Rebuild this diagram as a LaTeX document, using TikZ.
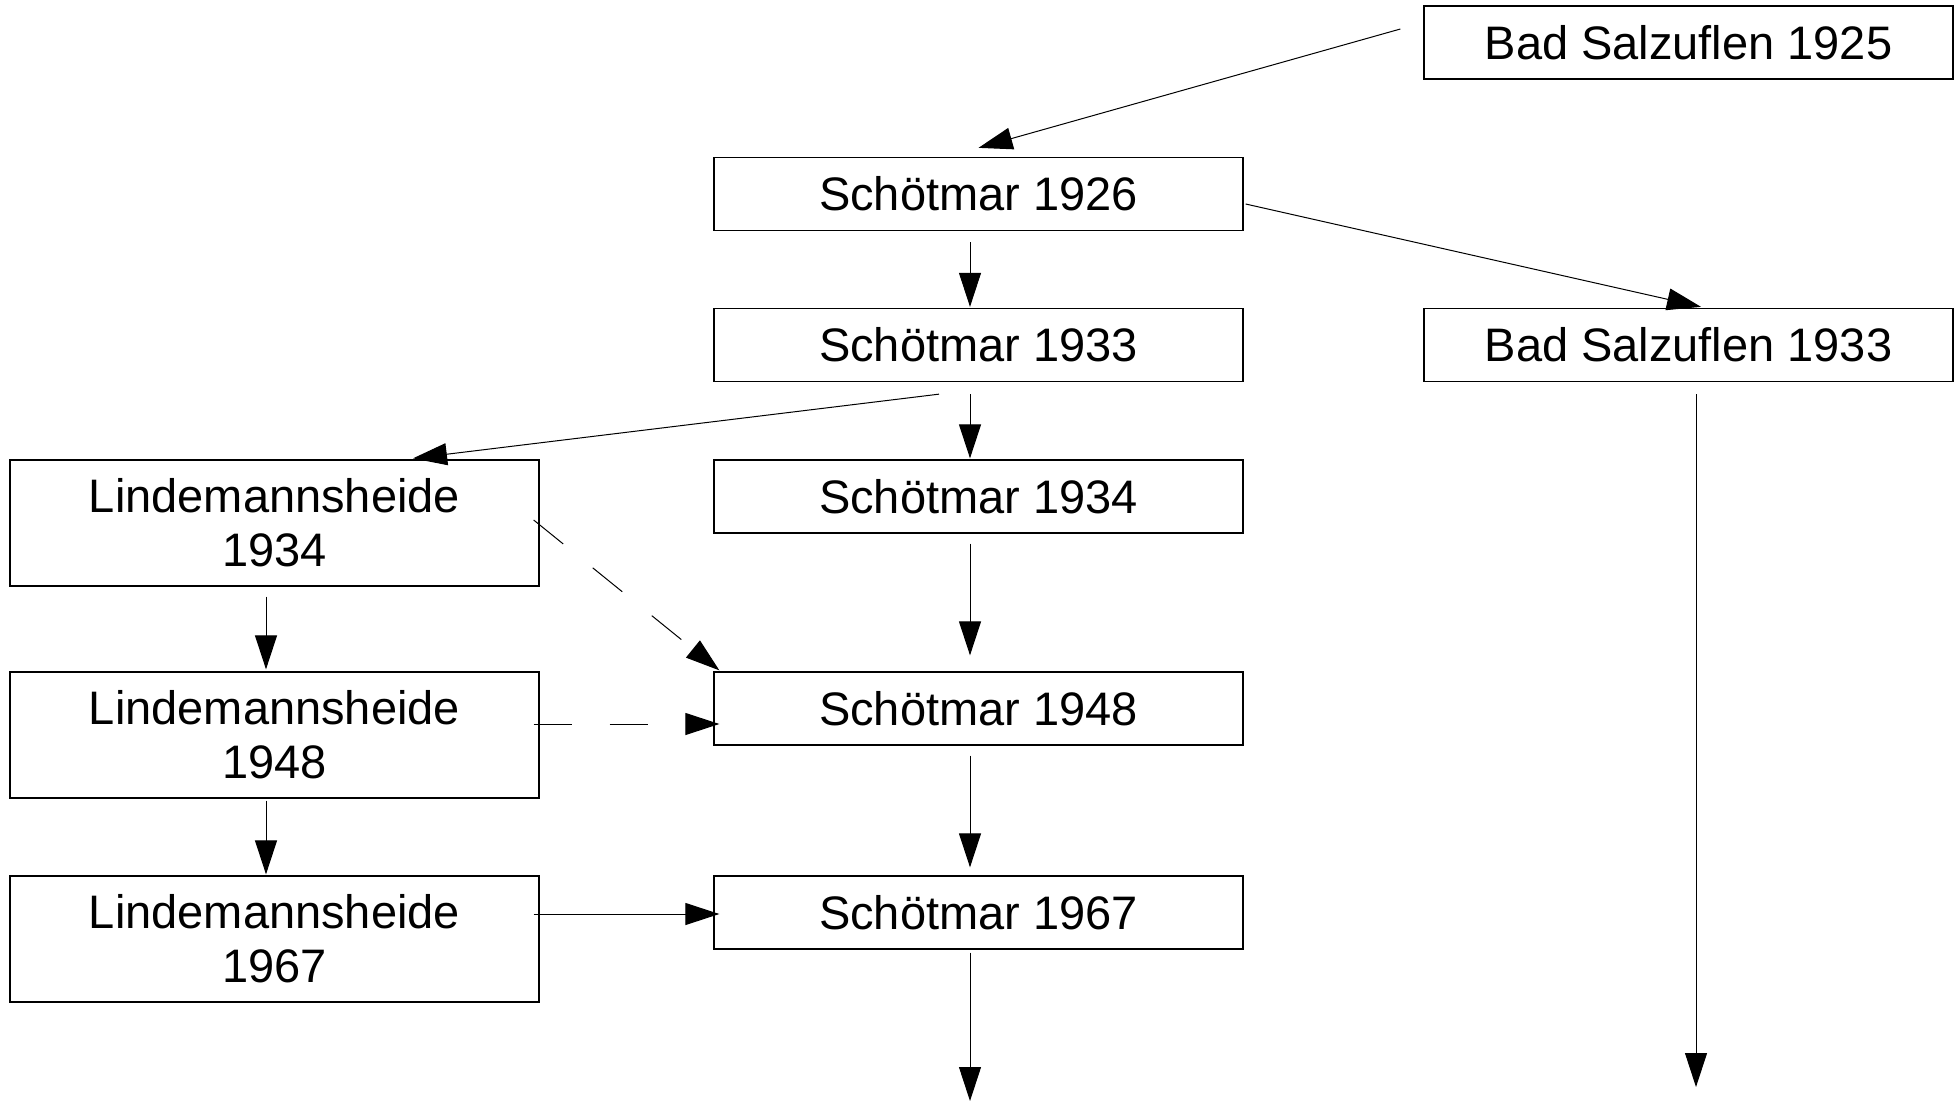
\documentclass[tikz,border=0pt]{standalone}
\usepackage{fontspec}
\setmainfont{Liberation Sans}
\usetikzlibrary{arrows.meta}
\tikzstyle{box}=[draw,line width=1.3pt,minimum width=529pt,minimum height=73pt,inner sep=0pt,align=center,font=\fontsize{47}{54}\selectfont]
\tikzstyle{tallbox}=[box,minimum height=126pt]
\tikzstyle{arr}=[line width=1pt,-{Triangle[length=34pt,width=22pt]}]
\tikzstyle{darr}=[arr,dash pattern=on 38pt off 38pt]

\begin{document}
\begin{tikzpicture}[x=1pt,y=-1pt]
\useasboundingbox (0,0) rectangle (1960,1101);
\node[box] (B25) at (1688.5,42.5) {Bad Salzuflen 1925};
\node[box] (S26) at (978.5,194) {Schötmar 1926};
\node[box] (S33) at (978.5,345) {Schötmar 1933};
\node[box] (B33) at (1688.5,345) {Bad Salzuflen 1933};
\node[box] (S34) at (978.5,496.5) {Schötmar 1934};
\node[box] (S48) at (978.5,708.5) {Schötmar 1948};
\node[box] (S67) at (978.5,912.5) {Schötmar 1967};
\node[tallbox] (L34) at (274.5,523) {Lindemannsheide\\1934};
\node[tallbox] (L48) at (274.5,735) {Lindemannsheide\\1948};
\node[tallbox] (L67) at (274.5,939) {Lindemannsheide\\1967};
\coordinate (Bend) at (1696,1087);
\coordinate (Send) at (970,1101);
\draw[arr] ([xshift=-23pt,yshift=13.5pt]B25.west) -- ([yshift=9pt]S26.north);
\draw[arr] ([xshift=-8.5pt,yshift=-11pt]S26.south) -- ([xshift=-8.5pt,yshift=1pt]S33.north);
\draw[arr] ([xshift=2pt,yshift=-10pt]S26.east) -- ([xshift=12.5pt,yshift=1pt]B33.north);
\draw[arr] ([xshift=-39.5pt,yshift=-12pt]S33.south) -- ([xshift=138.5pt,yshift=1pt]L34.north);
\draw[arr] ([xshift=-8.5pt,yshift=-12pt]S33.south) -- ([xshift=-8.5pt,yshift=1pt]S34.north);
\draw[arr] ([xshift=7.5pt,yshift=-12pt]B33.south) -- (Bend);
\draw[darr] ([xshift=-6pt,yshift=3pt]L34.east) -- ([xshift=6pt,yshift=1pt]S48.north west);
\draw[arr] ([xshift=-8.5pt,yshift=-10pt]S34.south) -- ([xshift=-8.5pt,yshift=16pt]S48.north);
\draw[arr] ([xshift=-8.5pt,yshift=-10pt]L34.south) -- ([xshift=-8.5pt,yshift=2pt]L48.north);
\draw[darr] ([xshift=-6pt,yshift=11pt]L48.east) -- ([xshift=6pt,yshift=-15.5pt]S48.west);
\draw[arr] ([xshift=-8.5pt,yshift=-10pt]S48.south) -- ([xshift=-8.5pt,yshift=8pt]S67.north);
\draw[arr] ([xshift=-8.5pt,yshift=-2pt]L48.south) -- ([xshift=-8.5pt,yshift=1pt]L67.north);
\draw[arr] ([xshift=-6pt,yshift=25pt]L67.east) -- ([xshift=6pt,yshift=-1.5pt]S67.west);
\draw[arr] ([xshift=-8.5pt,yshift=-3pt]S67.south) -- (Send);
\end{tikzpicture}
\end{document}
